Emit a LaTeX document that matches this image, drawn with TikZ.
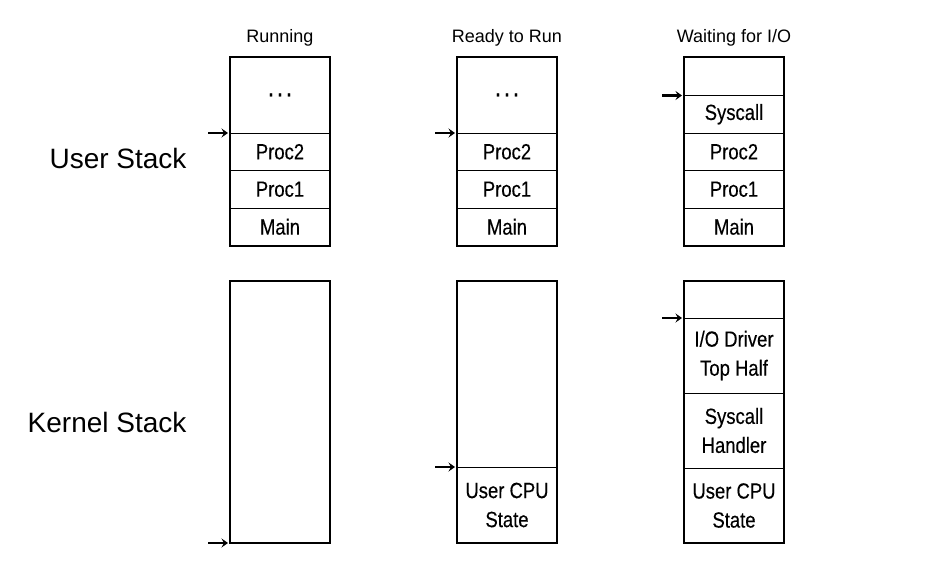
\documentclass[tikz,border=0pt]{standalone}
\usepackage{fontspec}
\setmainfont{Liberation Sans}
\newfontfamily\cellfont{Liberation Sans}[FakeStretch=0.84,FakeBold=0.3]
\usetikzlibrary{positioning,arrows.meta}
\begin{document}
\begin{tikzpicture}[x=1pt,y=1pt,
	cell/.style={draw, line width=1pt, minimum width=100pt, inner sep=0pt, outer sep=0pt, align=center, font=\cellfont\fontsize{22}{29}\selectfont},
	title/.style={font=\fontsize{18}{22}\selectfont},
	side/.style={anchor=east, font=\fontsize{28}{32}\selectfont},
	ptr/.style={-{Stealth[length=6.5pt,width=9pt,inset=2.5pt]}, line width=2.4pt},
	frame/.style={line width=2pt}]
	\useasboundingbox (0,0) rectangle (927,-570);

	\node[title] (trun) at (280,-38) {Running};
	\node[title] (trdy) at (507,-38) {Ready to Run};
	\node[title] (twt) at (734,-38) {Waiting for I/O};
	\node[side] (luser) at (190,-158) {User Stack};
	\node[side] (lkern) at (190,-422) {Kernel Stack};

	% user stacks
	\node[cell, minimum height=76pt, anchor=north] (run1) at (280,-57) {\fontsize{28}{28}\selectfont.\hspace{2.5pt}.\hspace{2.5pt}.};
	\node[cell, minimum height=37.5pt, below=0pt of run1] (run2) {Proc2};
	\node[cell, minimum height=37.5pt, below=0pt of run2] (run3) {Proc1};
	\node[cell, minimum height=37.5pt, below=0pt of run3] (run4) {Main};
	\draw[frame] (run1.north west) rectangle (run4.south east);

	\node[cell, minimum height=76pt, anchor=north] (rdy1) at (507,-57) {\fontsize{28}{28}\selectfont.\hspace{2.5pt}.\hspace{2.5pt}.};
	\node[cell, minimum height=37.5pt, below=0pt of rdy1] (rdy2) {Proc2};
	\node[cell, minimum height=37.5pt, below=0pt of rdy2] (rdy3) {Proc1};
	\node[cell, minimum height=37.5pt, below=0pt of rdy3] (rdy4) {Main};
	\draw[frame] (rdy1.north west) rectangle (rdy4.south east);

	\node[cell, minimum height=38.5pt, anchor=north] (wt1) at (734,-57) {};
	\node[cell, minimum height=37.5pt, below=0pt of wt1] (wt2) {Syscall};
	\node[cell, minimum height=37.5pt, below=0pt of wt2] (wt3) {Proc2};
	\node[cell, minimum height=37.5pt, below=0pt of wt3] (wt4) {Proc1};
	\node[cell, minimum height=37.5pt, below=0pt of wt4] (wt5) {Main};
	\draw[frame] (wt1.north west) rectangle (wt5.south east);

	% kernel stacks
	\node[cell, minimum height=262pt, anchor=north] (krun) at (280,-281) {};
	\draw[frame] (krun.north west) rectangle (krun.south east);

	\node[cell, minimum height=186pt, anchor=north] (krdy1) at (507,-281) {};
	\node[cell, minimum height=76pt, below=0pt of krdy1] (krdy2) {User CPU\\State};
	\draw[frame] (krdy1.north west) rectangle (krdy2.south east);

	\node[cell, minimum height=37pt, anchor=north] (kwt1) at (734,-281) {};
	\node[cell, minimum height=75pt, below=0pt of kwt1] (kwt2) {I/O Driver\\Top Half};
	\node[cell, minimum height=75pt, below=0pt of kwt2] (kwt3) {Syscall\\Handler};
	\node[cell, minimum height=75pt, below=0pt of kwt3] (kwt4) {User CPU\\State};
	\draw[frame] (kwt1.north west) rectangle (kwt4.south east);

	% stack pointers
	\coordinate[left=22pt of run1.south west] (prun);
	\coordinate[left=22pt of rdy1.south west] (prdy);
	\coordinate[left=22pt of wt1.south west] (pwt);
	\coordinate[left=22pt of krun.south west] (pkrun);
	\coordinate[left=22pt of krdy1.south west] (pkrdy);
	\coordinate[left=22pt of kwt1.south west] (pkwt);
	\draw[ptr] (prun) -- ([xshift=-2pt]run1.south west);
	\draw[ptr] (prdy) -- ([xshift=-2pt]rdy1.south west);
	\draw[ptr] (pwt) -- ([xshift=-2pt]wt1.south west);
	\draw[ptr] (pkrun) -- ([xshift=-2pt]krun.south west);
	\draw[ptr] (pkrdy) -- ([xshift=-2pt]krdy1.south west);
	\draw[ptr] (pkwt) -- ([xshift=-2pt]kwt1.south west);
\end{tikzpicture}
\end{document}
